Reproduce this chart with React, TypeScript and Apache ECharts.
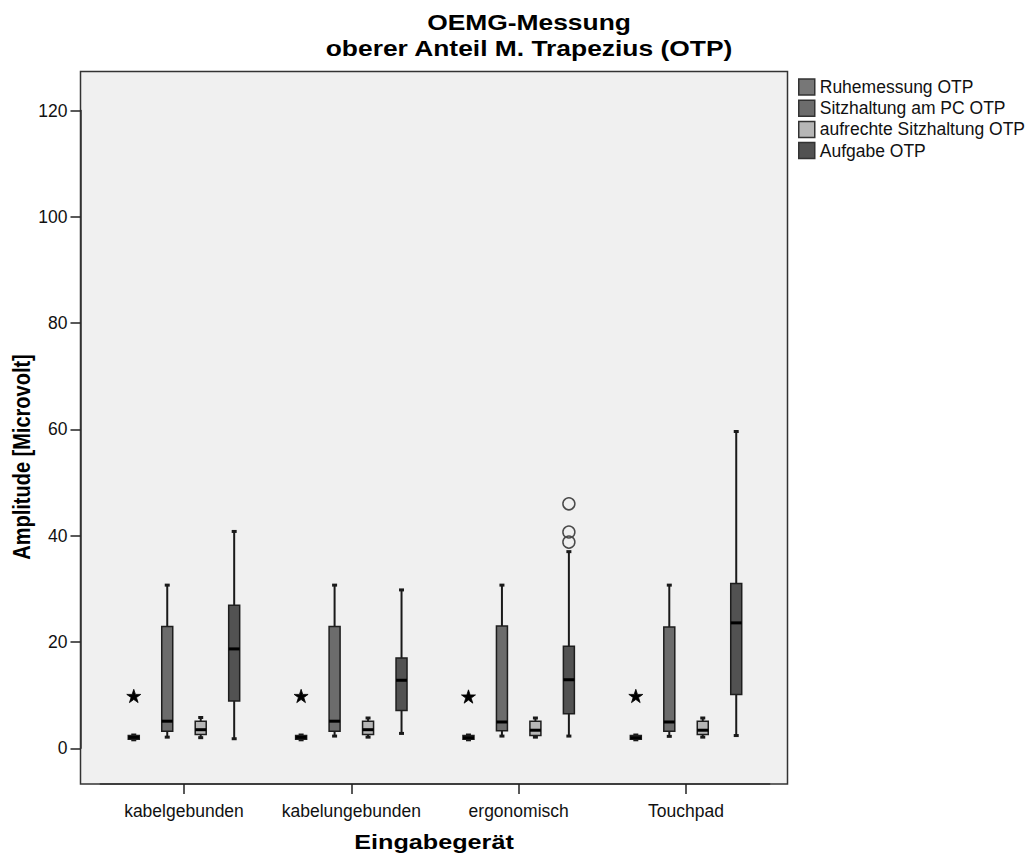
import React, { useEffect, useRef } from "react";
import * as echarts from "echarts";

// ---------- data ----------
const categories = ["kabelgebunden", "kabelungebunden", "ergonomisch", "Touchpad"];
const seriesNames = [
  "Ruhemessung OTP",
  "Sitzhaltung am PC OTP",
  "aufrechte Sitzhaltung OTP",
  "Aufgabe OTP",
];
const seriesColors = ["#777777", "#6c6c6c", "#b6b6b6", "#525252"];

// [low whisker, Q1, median, Q3, high whisker] per category
const ruhemessung = [
  [1.6, 1.7, 2.05, 2.4, 2.5],
  [1.6, 1.7, 2.05, 2.4, 2.5],
  [1.6, 1.7, 2.0, 2.4, 2.5],
  [1.6, 1.7, 2.0, 2.4, 2.5],
];
const sitzhaltungPC = [
  [2.1, 3.2, 5.1, 22.9, 30.7],
  [2.3, 3.2, 5.1, 22.9, 30.7],
  [2.3, 3.3, 4.95, 23.0, 30.7],
  [2.25, 3.2, 4.95, 22.8, 30.7],
];
const aufrechteSitzhaltung = [
  [2.0, 2.6, 3.5, 5.1, 5.8],
  [2.1, 2.6, 3.5, 5.1, 5.7],
  [2.1, 2.4, 3.4, 5.1, 5.7],
  [2.1, 2.6, 3.4, 5.1, 5.7],
];
const aufgabe = [
  [1.8, 8.9, 18.7, 26.9, 40.8],
  [2.8, 7.1, 12.8, 17.0, 29.8],
  [2.3, 6.5, 12.9, 19.2, 37.0],
  [2.4, 10.1, 23.6, 31.0, 59.6],
];
// extreme values (star) of Ruhemessung, outliers (circle) of Aufgabe
const ruheExtremes = [
  [0, 9.8],
  [1, 9.8],
  [2, 9.7],
  [3, 9.8],
];
const aufgabeOutliers = [
  [2, 46.0],
  [2, 40.7],
  [2, 38.8],
];
const yMin = 0;
const yMax = 120;
const yStep = 20;

const boxSets = [ruhemessung, sitzhaltungPC, aufrechteSitzhaltung, aufgabe];
const OFFSETS = [-0.3, -0.1, 0.1, 0.3];
const FONT = '"Liberation Sans", Arial, Helvetica, sans-serif';
const STAR =
  "M0,-1 L0.2245,-0.309 L0.951,-0.309 L0.363,0.118 L0.588,0.809 L0,0.382 L-0.588,0.809 L-0.363,0.118 L-0.951,-0.309 L-0.2245,-0.309 Z";

function boxRenderer(si: number, color: string) {
  return (_params: any, api: any) => {
    const cat = api.value(0);
    const bw = api.size([1, 0])[0];
    const x = api.coord([cat, 0])[0] + OFFSETS[si] * bw;
    const y = (i: number) => api.coord([cat, api.value(i)])[1];
    const yLow = y(1);
    const yQ1 = y(2);
    const yMed = y(3);
    const yQ3 = y(4);
    const yHigh = y(5);
    const hw = 5.5;
    const cw = 2.5;
    const ink = "#1a1a1a";
    return {
      type: "group",
      children: [
        { type: "line", shape: { x1: x, y1: yHigh, x2: x, y2: yQ3 }, style: { stroke: ink, lineWidth: 2 } },
        { type: "line", shape: { x1: x, y1: yQ1, x2: x, y2: yLow }, style: { stroke: ink, lineWidth: 2 } },
        { type: "line", shape: { x1: x - cw, y1: yHigh, x2: x + cw, y2: yHigh }, style: { stroke: ink, lineWidth: 3 } },
        { type: "line", shape: { x1: x - cw, y1: yLow, x2: x + cw, y2: yLow }, style: { stroke: ink, lineWidth: 3 } },
        {
          type: "rect",
          shape: { x: x - hw, y: yQ3, width: 2 * hw, height: yQ1 - yQ3 },
          style: { fill: color, stroke: "#1e1e1e", lineWidth: 1.5 },
        },
        { type: "line", shape: { x1: x - hw, y1: yMed, x2: x + hw, y2: yMed }, style: { stroke: "#000", lineWidth: 3 } },
      ],
    };
  };
}

function starRenderer(si: number) {
  return (_params: any, api: any) => {
    const cat = api.value(0);
    const bw = api.size([1, 0])[0];
    const p = api.coord([cat, api.value(1)]);
    return {
      type: "path",
      shape: { pathData: STAR, x: p[0] + OFFSETS[si] * bw - 7, y: p[1] - 7, width: 14, height: 13.5, layout: "center" },
      style: { fill: "#000", stroke: "#000", lineWidth: 0.8 },
    };
  };
}

function circleRenderer(si: number) {
  return (_params: any, api: any) => {
    const cat = api.value(0);
    const bw = api.size([1, 0])[0];
    const p = api.coord([cat, api.value(1)]);
    return {
      type: "circle",
      shape: { cx: p[0] + OFFSETS[si] * bw, cy: p[1], r: 6 },
      style: { fill: "none", stroke: "#4a4a4a", lineWidth: 1.5 },
    };
  };
}

export default function App() {
  const ref = useRef<HTMLDivElement>(null);
  useEffect(() => {
    document.body.style.margin = "0";
    const chart = echarts.init(ref.current!, null, { renderer: "svg" });
    const boxSeries = boxSets.map((set, si) => ({
      name: seriesNames[si],
      type: "custom",
      itemStyle: { color: seriesColors[si] },
      renderItem: boxRenderer(si, seriesColors[si]),
      encode: { x: 0, y: [1, 2, 3, 4, 5] },
      data: set.map((v, i) => [i, ...v]),
      z: 3,
    }));
    const option: any = {
      animation: false,
      backgroundColor: "#ffffff",
      color: seriesColors,
      grid: { left: 100.3, top: 110.5, width: 669.4, height: 637.8, containLabel: false },
      legend: {
        data: seriesNames.map((n) => ({ name: n, icon: "rect" })),
        orient: "vertical",
        left: 793,
        top: 73,
        itemWidth: 16,
        itemHeight: 16,
        itemGap: 3.2,
        selectedMode: false,
        itemStyle: { borderColor: "#333", borderWidth: 1.5 },
        textStyle: { fontFamily: FONT, fontSize: 17.5, color: "#111" },
      },
      xAxis: {
        type: "category",
        data: categories,
        boundaryGap: true,
        offset: 35.7,
        axisLine: { show: true, onZero: false, lineStyle: { color: "#333", width: 1.5 } },
        axisTick: { show: true, interval: 0, alignWithLabel: true, length: 10, lineStyle: { color: "#222", width: 1.5 } },
        axisLabel: { interval: 0, margin: 18, fontFamily: FONT, fontSize: 17.5, color: "#111" },
        splitLine: { show: false },
      },
      yAxis: {
        type: "value",
        min: yMin,
        max: yMax,
        interval: yStep,
        offset: 19.8,
        axisLine: { show: true, onZero: false, lineStyle: { color: "#333", width: 1.5 } },
        axisTick: { show: true, length: 10, lineStyle: { color: "#222", width: 1.5 } },
        axisLabel: { margin: 13, fontFamily: FONT, fontSize: 17.5, color: "#111" },
        splitLine: { show: false },
      },
      graphic: [
        {
          type: "rect",
          z: -1,
          silent: true,
          shape: { x: 80.5, y: 71.5, width: 707, height: 712.5 },
          style: { fill: "#f0f0f0", stroke: "#333", lineWidth: 1.5 },
        },
        {
          type: "text",
          x: 529,
          y: 22,
          scaleX: 1.2,
          style: {
            text: "OEMG-Messung",
            fontFamily: FONT,
            fontWeight: "bold",
            fontSize: 22,
            fill: "#000",
            textAlign: "center",
            textVerticalAlign: "middle",
            align: "center",
            verticalAlign: "middle",
          },
        },
        {
          type: "text",
          x: 529,
          y: 48.5,
          scaleX: 1.2,
          style: {
            text: "oberer Anteil M. Trapezius (OTP)",
            fontFamily: FONT,
            fontWeight: "bold",
            fontSize: 22,
            fill: "#000",
            textAlign: "center",
            textVerticalAlign: "middle",
            align: "center",
            verticalAlign: "middle",
          },
        },
        {
          type: "text",
          x: 22,
          y: 457,
          rotation: Math.PI / 2,
          scaleY: 1.15,
          style: {
            text: "Amplitude [Microvolt]",
            fontFamily: FONT,
            fontWeight: "bold",
            fontSize: 20,
            fill: "#000",
            textAlign: "center",
            textVerticalAlign: "middle",
            align: "center",
            verticalAlign: "middle",
          },
        },
        {
          type: "text",
          x: 434,
          y: 842,
          scaleX: 1.2,
          style: {
            text: "Eingabegerät",
            fontFamily: FONT,
            fontWeight: "bold",
            fontSize: 21,
            fill: "#000",
            textAlign: "center",
            textVerticalAlign: "middle",
            align: "center",
            verticalAlign: "middle",
          },
        },
      ],
      series: [
        ...boxSeries,
        {
          name: "Extremwerte",
          type: "custom",
          renderItem: starRenderer(0),
          encode: { x: 0, y: 1 },
          data: ruheExtremes,
          z: 4,
        },
        {
          name: "Ausreißer",
          type: "custom",
          renderItem: circleRenderer(3),
          encode: { x: 0, y: 1 },
          data: aufgabeOutliers,
          z: 4,
        },
      ],
    };
    chart.setOption(option);
    return () => chart.dispose();
  }, []);
  return (
    <div
      ref={ref}
      style={{ position: "absolute", left: 0, top: 0, width: 1029, height: 861, background: "#fff" }}
    />
  );
}
